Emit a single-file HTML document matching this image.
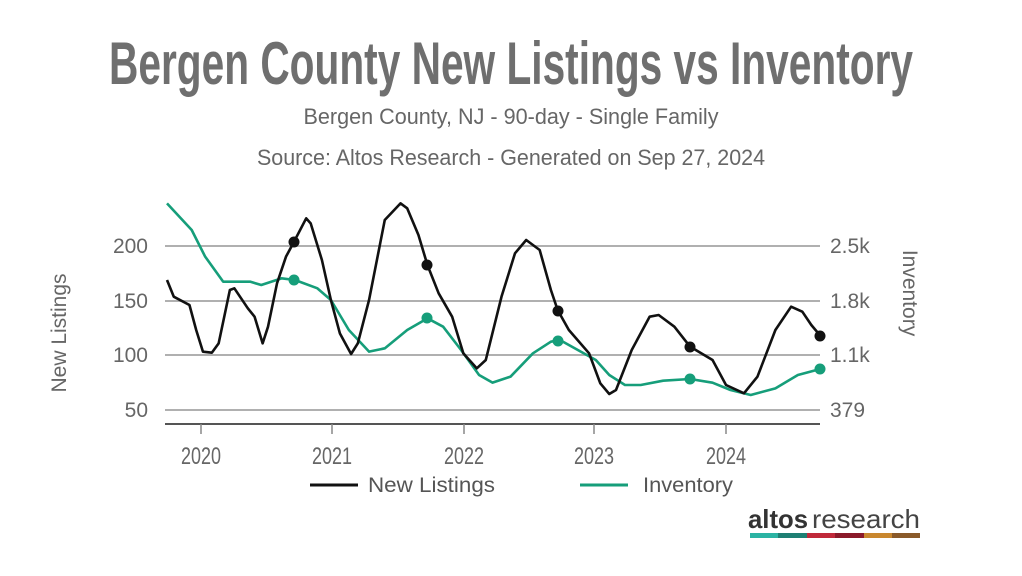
<!DOCTYPE html>
<html><head><meta charset="utf-8"><style>body{margin:0;background:#fff}svg{display:block}</style></head>
<body>
<svg width="1022" height="576" viewBox="0 0 1022 576" font-family="'Liberation Sans Narrow','Liberation Sans',sans-serif">
<rect width="1022" height="576" fill="#fff"/>
<text x="511" y="84" text-anchor="middle" font-size="60" font-weight="bold" fill="#6f6f6f" textLength="804" lengthAdjust="spacingAndGlyphs">Bergen County New Listings vs Inventory</text>
<text x="511" y="124" text-anchor="middle" font-size="22" fill="#666" textLength="415" lengthAdjust="spacingAndGlyphs">Bergen County, NJ - 90-day - Single Family</text>
<text x="511" y="165" text-anchor="middle" font-size="22" fill="#666" textLength="508" lengthAdjust="spacingAndGlyphs">Source: Altos Research - Generated on Sep 27, 2024</text>
<g stroke="#b0b0b0" stroke-width="2">
<line x1="165" y1="246" x2="820" y2="246"/><line x1="165" y1="301" x2="820" y2="301"/>
<line x1="165" y1="355" x2="820" y2="355"/><line x1="165" y1="410" x2="820" y2="410"/>
</g>
<line x1="165" y1="424" x2="820" y2="424" stroke="#555" stroke-width="2"/>
<g stroke="#888" stroke-width="1.5">
<line x1="201" y1="424" x2="201" y2="434"/><line x1="332" y1="424" x2="332" y2="434"/>
<line x1="464" y1="424" x2="464" y2="434"/><line x1="594" y1="424" x2="594" y2="434"/>
<line x1="726" y1="424" x2="726" y2="434"/>
</g>
<g font-size="24" fill="#666" text-anchor="middle">
<text x="201" y="464" textLength="40" lengthAdjust="spacingAndGlyphs">2020</text><text x="332" y="464" textLength="40" lengthAdjust="spacingAndGlyphs">2021</text><text x="464" y="464" textLength="40" lengthAdjust="spacingAndGlyphs">2022</text><text x="594" y="464" textLength="40" lengthAdjust="spacingAndGlyphs">2023</text><text x="726" y="464" textLength="40" lengthAdjust="spacingAndGlyphs">2024</text>
</g>
<g font-size="21" fill="#666" text-anchor="end">
<text x="148" y="253">200</text><text x="148" y="308">150</text><text x="148" y="362">100</text><text x="148" y="417">50</text>
</g>
<g font-size="21" fill="#666">
<text x="830" y="253">2.5k</text><text x="830" y="308">1.8k</text><text x="830" y="362">1.1k</text><text x="830" y="417">379</text>
</g>
<text transform="translate(66,333) rotate(-90)" text-anchor="middle" font-size="21" fill="#666">New Listings</text>
<text transform="translate(903,293) rotate(90)" text-anchor="middle" font-size="21" fill="#666">Inventory</text>
<g transform="translate(146.8,190) scale(0.449,0.33333)" fill="none" stroke-linejoin="round">
<path vector-effect="non-scaling-stroke" stroke="#169e7a" stroke-width="2.6" d="M45,40 L100,120 L130,200 L170,275 L230,275 L255,285 L300,265 L330,270 L380,295 L410,330 L450,420 L495,485 L530,475 L580,420 L625,385 L660,410 L700,480 L740,555 L770,578 L810,560 L860,490 L900,455 L920,450 L960,480 L1000,510 L1030,555 L1065,585 L1100,585 L1150,572 L1210,567 L1260,578 L1300,600 L1345,615 L1400,595 L1450,555 L1500,537"/>
<path vector-effect="non-scaling-stroke" stroke="#111" stroke-width="2.6" d="M45,270 L60,320 L95,345 L110,420 L125,485 L145,488 L160,460 L185,300 L195,295 L225,355 L240,380 L258,460 L270,410 L290,280 L310,200 L328,155 L355,85 L365,100 L390,210 L410,330 L430,430 L455,492 L470,460 L495,330 L530,90 L565,40 L580,55 L605,135 L625,225 L650,310 L680,380 L705,490 L735,535 L755,510 L790,320 L820,190 L845,150 L875,180 L900,300 L915,360 L940,420 L985,490 L1010,580 L1030,612 L1045,600 L1080,480 L1120,380 L1140,375 L1175,410 L1210,470 L1260,510 L1290,585 L1330,610 L1360,560 L1400,420 L1435,350 L1460,365 L1480,405 L1500,437"/>
</g>
<g fill="#111"><circle cx="294" cy="242" r="5.5"/><circle cx="427" cy="265" r="5.5"/><circle cx="558" cy="311" r="5.5"/><circle cx="690" cy="347" r="5.5"/><circle cx="820" cy="336" r="5.5"/></g>
<g fill="#169e7a"><circle cx="294" cy="280" r="5.5"/><circle cx="427" cy="318" r="5.5"/><circle cx="558" cy="341" r="5.5"/><circle cx="690" cy="379" r="5.5"/><circle cx="820" cy="369" r="5.5"/></g>
<line x1="310" y1="485" x2="358" y2="485" stroke="#111" stroke-width="3"/>
<text x="368" y="492" font-size="21" fill="#555" textLength="127" lengthAdjust="spacingAndGlyphs">New Listings</text>
<line x1="580" y1="485" x2="628" y2="485" stroke="#169e7a" stroke-width="3"/>
<text x="643" y="492" font-size="21" fill="#555" textLength="90" lengthAdjust="spacingAndGlyphs">Inventory</text>
<text x="748" y="528" font-family="'Liberation Sans',sans-serif" font-size="26" font-weight="bold" fill="#333" textLength="60" lengthAdjust="spacingAndGlyphs">altos</text>
<text x="812" y="528" font-family="'Liberation Sans',sans-serif" font-size="26" fill="#444" textLength="108" lengthAdjust="spacingAndGlyphs">research</text>
<rect x="750" y="533" width="28" height="5" fill="#2bb3a3"/><rect x="778" y="533" width="29" height="5" fill="#1e7f73"/>
<rect x="807" y="533" width="28" height="5" fill="#c0293a"/><rect x="835" y="533" width="29" height="5" fill="#8b1a2a"/>
<rect x="864" y="533" width="28" height="5" fill="#c9872e"/><rect x="892" y="533" width="28" height="5" fill="#8a5a2a"/>
</svg>
</body></html>
